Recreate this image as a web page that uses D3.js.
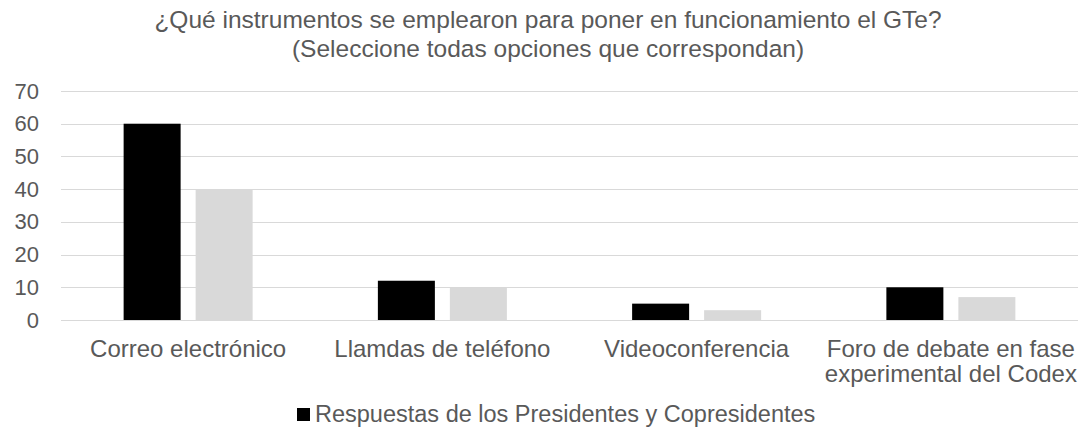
<!DOCTYPE html>
<html><head><meta charset="utf-8">
<script src="https://cdn.jsdelivr.net/npm/d3@7"></script>
<style>body{margin:0;background:#fff}svg{display:block;font-family:"Liberation Sans",Arial,sans-serif}</style>
</head><body><svg id="c" width="1083" height="432"></svg>
<script>
const categories = [["Correo electrónico"],["Llamdas de teléfono"],["Videoconferencia"],["Foro de debate en fase","experimental del Codex"]];
const seriesNames = ["Respuestas de los Presidentes y Copresidentes","Otras respuestas"];
const seriesA = [60, 12, 5, 10];
const seriesB = [40, 10, 3, 7];
const yTicks = [0,10,20,30,40,50,60,70];
const titleLines = ["¿Qué instrumentos se emplearon para poner en funcionamiento el GTe?","(Seleccione todas opciones que correspondan)"];

const svg = d3.select("#c");
const W=1083,H=432;
svg.append("rect").attr("width",W).attr("height",H).attr("fill","#fff");
const L=61,R=1078,T=91,B=320;
const x = d3.scaleBand().domain(d3.range(categories.length)).range([L,R]).paddingInner(0).paddingOuter(0);
const y = d3.scaleLinear().domain([0,70]).range([B,T]);
const txt="#595959";

// title
svg.append("g").selectAll("text").data(titleLines).join("text")
  .attr("x",548).attr("y",(d,i)=>28+i*29).attr("text-anchor","middle")
  .attr("font-size",24.5).attr("fill",txt).text(d=>d);

// gridlines
svg.append("g").selectAll("line").data(yTicks).join("line")
  .attr("x1",L).attr("x2",R).attr("y1",d=>Math.round(y(d))+0.5).attr("y2",d=>Math.round(y(d))+0.5)
  .attr("stroke","#d9d9d9").attr("stroke-width",1);

// y axis labels
const yAxis = d3.axisLeft(y).tickValues(yTicks).tickSize(0).tickPadding(0);
const ga = svg.append("g").attr("transform",`translate(39,0)`).call(yAxis);
ga.select(".domain").remove();
ga.selectAll("text").attr("font-size",22).attr("fill",txt).attr("font-family","Liberation Sans, Arial, sans-serif");

// bars
const bw = x.bandwidth();
const barW = 57, gap = 15;
const sub = d3.scaleOrdinal().domain([0,1]).range([-(gap/2+barW), gap/2]);
const data = [];
categories.forEach((c,i)=>{data.push({i,s:0,v:seriesA[i]});data.push({i,s:1,v:seriesB[i]});});
svg.append("g").selectAll("rect").data(data).join("rect")
  .attr("x",d=>x(d.i)+bw/2+sub(d.s)).attr("width",barW)
  .attr("y",d=>y(d.v)).attr("height",d=>y(0)-y(d.v))
  .attr("fill",d=>d.s===0?"#000000":"#d9d9d9");

// category labels
const gc = svg.append("g");
categories.forEach((lines,i)=>{
  const t = gc.append("text").attr("x",x(i)+bw/2).attr("y",357).attr("text-anchor","middle")
    .attr("font-size",24).attr("fill",txt);
  lines.forEach((l,j)=>t.append("tspan").attr("x",x(i)+bw/2).attr("dy",j?25:0).text(l));
});

// legend
const lg = svg.append("g");
lg.append("rect").attr("x",297).attr("y",408).attr("width",13).attr("height",13).attr("fill","#000");
lg.append("text").attr("x",315).attr("y",422).attr("font-size",23.5).attr("fill",txt).text(seriesNames[0]);
</script></body></html>
